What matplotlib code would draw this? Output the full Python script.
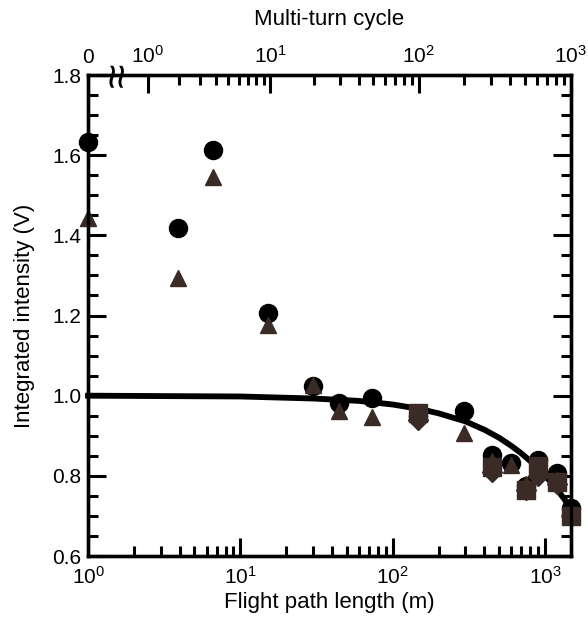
import matplotlib
matplotlib.use('Agg')
import matplotlib.pyplot as plt
from matplotlib.ticker import MultipleLocator, FixedLocator, NullFormatter

plt.rcParams['font.family'] = ['Liberation Sans', 'DejaVu Sans']
plt.rcParams['mathtext.fontset'] = 'custom'
plt.rcParams['mathtext.rm'] = 'Liberation Sans'
plt.rcParams['mathtext.it'] = 'Liberation Sans'
plt.rcParams['mathtext.default'] = 'regular'

# flight path length (m) of each measurement
path_len = [1, 3.9, 6.6, 15.2, 30, 44.5, 73, 147, 294, 450, 599, 750, 900, 1200, 1480]

# series
circle_y = [1.633, 1.418, 1.613, 1.206, 1.025, 0.982, 0.995, 0.95, 0.962, 0.852, 0.832, 0.775, 0.84, 0.807, 0.72]
triangle_y = [1.443, 1.294, 1.546, 1.177, 1.027, 0.962, 0.947, 0.957, 0.907, 0.836, 0.826, 0.78, 0.82, 0.79, 0.71]

square_len = [147, 450, 750, 900, 1200, 1480]
square_y = [0.957, 0.822, 0.765, 0.825, 0.785, 0.70]
diamond_len = [147, 450, 750, 900, 1200]
diamond_y = [0.94, 0.81, 0.765, 0.80, 0.78]

# fitted curve
curve_len = [1, 3, 10, 30, 60, 100, 150, 200, 300, 400, 500, 600, 700, 800, 1000, 1200, 1480]
curve_y = [1.0, 0.999, 0.998, 0.993, 0.987, 0.978, 0.967, 0.956, 0.936, 0.915, 0.895,
           0.875, 0.856, 0.837, 0.801, 0.766, 0.720]

# top axis: multi-turn cycles (one turn ~1.47 m)
turn_len = 1.47
top_major = [1, 10, 100, 1000]
top_labels = ['$10^{0}$', '$10^{1}$', '$10^{2}$', '$10^{3}$']

brown = '#3a2b27'

fig = plt.figure(figsize=(5.88, 6.2), dpi=100)
ax = fig.add_axes([0.1497, 0.1032, 0.8213, 0.7758])

ax.plot(curve_len, curve_y, color='black', lw=4.2, zorder=2, clip_on=False)
ax.plot(path_len, circle_y, 'o', color='black', ms=13, zorder=3, clip_on=False)
ax.plot(path_len, triangle_y, '^', color=brown, ms=11.5, zorder=4, clip_on=False)
ax.plot(diamond_len, diamond_y, 'D', color=brown, ms=10.5, zorder=5, clip_on=False)
ax.plot(square_len, square_y, 's', color=brown, ms=12.5, zorder=6, clip_on=False)

ax.set_xscale('log')
ax.set_xlim(1, 1480)
ax.set_ylim(0.6, 1.8)
ax.yaxis.set_major_locator(MultipleLocator(0.2))
ax.yaxis.set_minor_locator(MultipleLocator(0.05))
ax.yaxis.set_major_formatter(plt.FuncFormatter(lambda v, p: f'{v:.1f}'))

for s in ax.spines.values():
    s.set_linewidth(2.4)

ax.tick_params(which='both', direction='in', width=2.2, labelsize=15, right=True, top=False)
ax.tick_params(which='major', length=13, pad=5)
ax.tick_params(which='minor', length=7)
ax.tick_params(axis='x', which='major', pad=7)

ax.set_xlabel('Flight path length (m)', fontsize=16, labelpad=3)
ax.set_ylabel('Integrated intensity (V)', fontsize=16, labelpad=12)

# top axis
ax2 = ax.twiny()
ax2.set_xscale('log')
ax2.set_xlim(ax.get_xlim())
major_pos = [1] + [1 + turn_len * n for n in top_major]
ax2.xaxis.set_major_locator(FixedLocator(major_pos))
ax2.set_xticklabels(['0'] + top_labels)
minor_pos = [1 + turn_len * k * d for d in [1, 10, 100] for k in range(2, 10)]
ax2.xaxis.set_minor_locator(FixedLocator(minor_pos))
ax2.xaxis.set_minor_formatter(NullFormatter())
ax2.tick_params(which='both', direction='in', width=2.2, labelsize=15)
ax2.tick_params(which='major', length=13, pad=6)
ax2.tick_params(which='minor', length=7)
for s in ax2.spines.values():
    s.set_linewidth(2.4)
ax2.set_xlabel('Multi-turn cycle', fontsize=16, labelpad=14)

# axis break mark
ax2.text(1.6, 1.8, '\u2248', rotation=90, fontsize=32, ha='center', va='center',
         transform=ax2.transData, zorder=10, clip_on=False)

plt.savefig('out.png', dpi=100)
